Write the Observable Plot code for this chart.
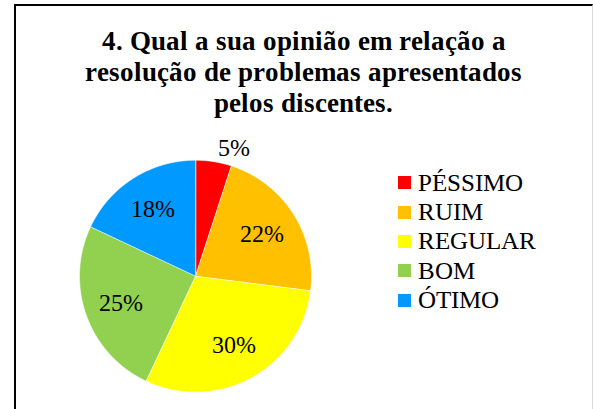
<!DOCTYPE html>
<html>
<head>
<meta charset="utf-8">
<script src="https://cdn.jsdelivr.net/npm/d3@7"></script>
<script src="https://cdn.jsdelivr.net/npm/@observablehq/plot@0.6"></script>
<style>
@font-face { font-family: 'ChartSerif'; font-weight: 400; src: local('Liberation Serif'), local('LiberationSerif'), local('Times New Roman'), local('DejaVu Serif'); }
@font-face { font-family: 'ChartSerif'; font-weight: 700; src: local('Liberation Serif Bold'), local('LiberationSerif-Bold'), local('Times New Roman Bold'), local('DejaVu Serif Bold'); }
</style>
</head>
<body style="margin:0;padding:0;background:#fff;font-family:'ChartSerif','Liberation Serif','Times New Roman',serif">
<div id="wrap" style="position:relative;width:593px;height:409px;overflow:hidden;font-family:'ChartSerif','Liberation Serif','Times New Roman',serif">
  <div id="chart" style="position:absolute;left:0;top:0"></div>
  <div style="position:absolute;left:14px;top:4px;width:576px;height:430px;border-left:2px solid #000;border-top:2px solid #000;border-right:1px solid #d9d9d9"></div>
  <div style="position:absolute;left:15px;width:577px;top:25.5px;text-align:center;font-weight:bold;font-size:26.5px;line-height:31px;color:#000;font-family:'ChartSerif','Liberation Serif','Times New Roman',serif">4. Qual a sua opinião em relação a<br>resolução de problemas apresentados<br>pelos discentes.</div>
  <div id="legend"></div>
</div>
<script>
const categories = ["PÉSSIMO", "RUIM", "REGULAR", "BOM", "ÓTIMO"];
const values = [5, 22, 30, 25, 18];
const colors = ["#FF0000", "#FFC000", "#FFFF00", "#92D050", "#0099FF"];

const FONT = "'ChartSerif', 'Liberation Serif', 'Times New Roman', serif";
const data = categories.map((c, i) => ({category: c, value: values[i]}));
const total = d3.sum(values);
const arcs = d3.pie().sort(null).value(d => d.value)(data);

// slice polygons in unit-circle data space (clockwise from 12 o'clock)
const polys = [];
arcs.forEach(a => {
  const c = a.data.category;
  polys.push({category: c, x: 0, y: 0});
  const n = Math.max(4, Math.ceil((a.endAngle - a.startAngle) / 0.01));
  for (let k = 0; k <= n; k++) {
    const t = a.startAngle + (a.endAngle - a.startAngle) * k / n;
    polys.push({category: c, x: Math.sin(t), y: Math.cos(t)});
  }
});

const inside = [], outside = [];
arcs.forEach(a => {
  const m = (a.startAngle + a.endAngle) / 2;
  const pct = Math.round(a.data.value / total * 100) + "%";
  if (a.data.value / total < 0.08) {
    outside.push({label: pct, x: Math.sin(m) * 1.12, y: Math.cos(m) * 1.12});
  } else {
    inside.push({label: pct, x: Math.sin(m) * 0.68, y: Math.cos(m) * 0.68});
  }
});

const cx = 195, cy = 275.7, R = 116;
const chart = Plot.plot({
  width: 593,
  height: 409,
  margin: 0,
  x: {domain: [-1, 1], range: [cx - R, cx + R], axis: null},
  y: {domain: [-1, 1], range: [cy + R, cy - R], axis: null},
  color: {domain: categories, range: colors},
  marks: [
    Plot.line(polys, {x: "x", y: "y", z: "category", fill: "category", stroke: "white", strokeWidth: 0.6, curve: "linear-closed"}),
    Plot.text(inside, {x: "x", y: "y", text: "label", fontSize: 24, fontFamily: FONT, fill: "#000"}),
    Plot.text(outside, {x: "x", y: "y", text: "label", fontSize: 24, fontFamily: FONT, fill: "#000", textAnchor: "start", dx: 2})
  ]
});
document.getElementById("chart").appendChild(chart);

const legend = document.getElementById("legend");
categories.forEach((c, i) => {
  const row = document.createElement("div");
  Object.assign(row.style, {position: "absolute", left: "398px", top: (167.6 + i * 29.4) + "px", height: "29.4px"});
  const sw = document.createElement("div");
  Object.assign(sw.style, {position: "absolute", left: "0px", top: "8.5px", width: "13px", height: "13px", background: colors[i]});
  const tx = document.createElement("div");
  Object.assign(tx.style, {position: "absolute", left: "20px", top: "0px", fontSize: "25px", lineHeight: "29.4px", whiteSpace: "nowrap", color: "#000", fontFamily: FONT});
  tx.textContent = c;
  row.appendChild(sw);
  row.appendChild(tx);
  legend.appendChild(row);
});
</script>
</body>
</html>
